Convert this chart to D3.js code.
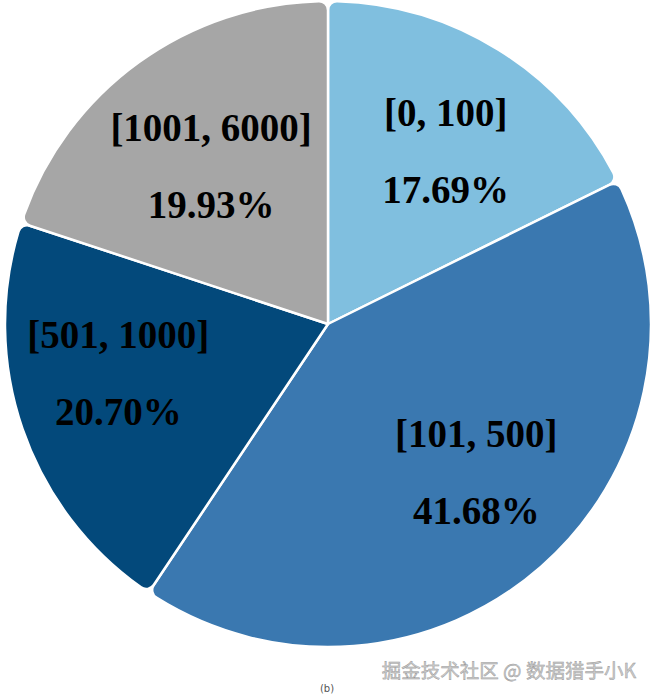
<!DOCTYPE html>
<html>
<head>
<meta charset="utf-8">
<script src="https://cdn.jsdelivr.net/npm/d3@7"></script>
<style>
  html, body { margin: 0; padding: 0; background: #fff; }
  svg { display: block; }
</style>
</head>
<body>
<svg id="chart" width="655" height="700"></svg>
<script>
const categories = ["[0, 100]", "[101, 500]", "[501, 1000]", "[1001, 6000]"];
const values = [17.69, 41.68, 20.70, 19.93];
const percentLabels = ["17.69%", "41.68%", "20.70%", "19.93%"];
const colors = ["#80bfdf", "#3a78b0", "#03497b", "#a6a6a6"];

// layout-only nudges for label placement (pixels)
const labelNudge = [[8, 3], [11, -9], [-13, -19], [5, 10]];

const svg = d3.select("#chart");
const cx = 328, cy = 324, r = 323;

const g = svg.append("g").attr("transform", `translate(${cx},${cy})`);

const pie = d3.pie().sort(null).value(d => d.v);
const data = pie(categories.map((c, i) => ({ c, v: values[i], p: percentLabels[i], col: colors[i], i })));

const arc = d3.arc().innerRadius(0).outerRadius(r).cornerRadius(9);
const labelArc = d3.arc().innerRadius(208).outerRadius(208);

g.selectAll("path.slice")
  .data(data)
  .join("path")
  .attr("class", "slice")
  .attr("d", arc)
  .attr("fill", d => d.data.col)
  .attr("stroke", "#ffffff")
  .attr("stroke-width", 2.5)
  .attr("stroke-linejoin", "round");

const labels = g.selectAll("g.lbl")
  .data(data)
  .join("g")
  .attr("class", "lbl")
  .attr("transform", d => {
    const [x, y] = labelArc.centroid(d);
    const [nx, ny] = labelNudge[d.data.i];
    return `translate(${x + nx},${y + ny})`;
  });

labels.append("text")
  .attr("text-anchor", "middle")
  .attr("dominant-baseline", "central")
  .attr("y", -38)
  .style("font-family", "'Liberation Serif', 'Times New Roman', serif")
  .style("font-weight", "bold")
  .style("font-size", "39px")
  .attr("fill", "#000")
  .text(d => d.data.c);

labels.append("text")
  .attr("text-anchor", "middle")
  .attr("dominant-baseline", "central")
  .attr("y", 39)
  .style("font-family", "'Liberation Serif', 'Times New Roman', serif")
  .style("font-weight", "bold")
  .style("font-size", "39px")
  .attr("fill", "#000")
  .text(d => d.data.p);

svg.append("text")
  .attr("x", 327).attr("y", 688)
  .attr("text-anchor", "middle")
  .attr("dominant-baseline", "central")
  .style("font-family", "'DejaVu Sans', sans-serif")
  .style("font-size", "10px")
  .attr("fill", "#555")
  .text("(b)");

svg.append("text")
  .attr("x", 636).attr("y", 669)
  .attr("text-anchor", "end")
  .attr("dominant-baseline", "central")
  .style("font-family", "'Noto Sans CJK SC', sans-serif")
  .style("font-size", "19.5px")
  .attr("fill", "#cccccc")
  .attr("stroke", "#999999")
  .attr("stroke-width", 0.45)
  .text("掘金技术社区 @ 数据猎手小K");
</script>
</body>
</html>
